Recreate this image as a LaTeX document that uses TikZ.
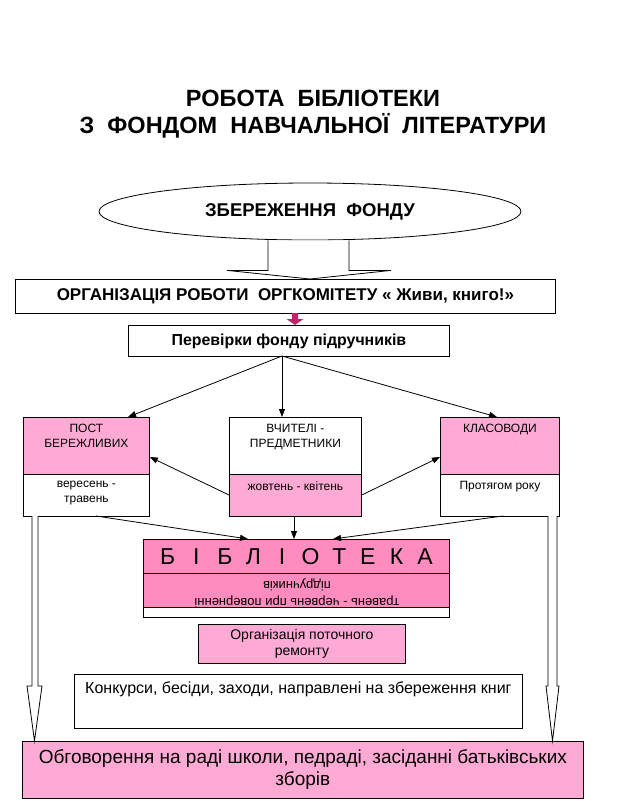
\documentclass[tikz,border=0pt]{standalone}
\usepackage{fontspec}
\setmainfont{Liberation Sans}
\usetikzlibrary{shapes.geometric,arrows.meta,calc}
\definecolor{pinkL}{RGB}{255,170,212}
\definecolor{pinkD}{RGB}{255,140,190}
\definecolor{magarr}{RGB}{192,36,106}
\newcommand\fsz[2]{\fontsize{#1}{#2}\selectfont}
\newcommand\lbx[1]{\makebox[28.6pt]{#1}}
\begin{document}
\begin{tikzpicture}[x=1pt,y=-1pt,
  line width=0.8pt,
  box/.style={draw=black, rectangle, inner sep=0pt, anchor=north west, align=center},
  txt/.style={inner sep=0pt, anchor=north, align=center, font=\fsz{12}{15}},
  arr/.style={-{Triangle[length=8pt,width=6pt]}},
  blockarr/.style={draw=black, fill=white, line width=0.8pt}
]
\useasboundingbox (0,0) rectangle (625,801);

% title
\node[inner sep=0pt, align=center, font=\bfseries\fsz{23.5}{27}] (title) at (313,114)
  {РОБОТА\ \ БІБЛІОТЕКИ\\З\ \ ФОНДОМ\ \ НАВЧАЛЬНОЇ\ \ ЛІТЕРАТУРИ};

% ellipse
\node[draw, ellipse, inner sep=0pt, minimum width=422pt, minimum height=57pt,
  font=\bfseries\fsz{18.5}{21}] (ell) at (310,211.5) {ЗБЕРЕЖЕННЯ\ \ ФОНДУ};

% organisation box
\node[box, minimum width=540pt, minimum height=34pt, font=\bfseries\fsz{17}{20}] (org) at (15,279)
  {ОРГАНІЗАЦІЯ РОБОТИ\ \ ОРГКОМІТЕТУ « Живи, книго!»};

% block arrow ellipse -> org
\path (ell.south) ++(-42,0) coordinate (ba1) (ell.south) ++(39,0) coordinate (ba2);
\draw[blockarr] (ba1) -- ($(ba1)+(0,30)$) -- ($(ba1)+(-41,30)$) -- (ell.south |- org.north)
  -- ($(ba2)+(42,30)$) -- ($(ba2)+(0,30)$) -- (ba2);

% check box
\node[box, minimum width=321pt, minimum height=31pt, font=\bfseries\fsz{15.9}{18}] (check) at (128,325)
  {Перевірки фонду підручників};

% magenta arrow
\coordinate (ma) at (295,313);
\fill[magarr] ($(ma)+(-3,0)$) -- ($(ma)+(3,0)$) -- ($(ma)+(3,6)$) -- ($(ma)+(8.5,6)$)
  -- (ma |- check.north) -- ($(ma)+(-8.5,6)$) -- ($(ma)+(-3,6)$) -- cycle;

% three boxes
\node[box, fill=pinkL, minimum width=126pt, minimum height=57pt] (postT) at (23,417) {};
\node[box, minimum width=126pt, minimum height=42pt] (postB) at (23,474) {};
\node[txt] (postTt) at ($(postT.north)+(0,6.5)$) {ПОСТ\\БЕРЕЖЛИВИХ};
\node[txt] (postBt) at ($(postB.north)+(0,7)$) {вересень -\\травень};

\node[box, minimum width=132pt, minimum height=57pt] (teachT) at (229,417) {};
\node[box, fill=pinkL, minimum width=132pt, minimum height=42pt] (teachB) at (229,474) {};
\node[txt] (teachTt) at ($(teachT.north)+(0,6.5)$) {ВЧИТЕЛІ -\\ПРЕДМЕТНИКИ};
\node[txt] (teachBt) at ($(teachB.north)+(0,7)$) {жовтень - квітень};

\node[box, fill=pinkL, minimum width=119pt, minimum height=57pt] (classT) at (440,417) {};
\node[box, minimum width=119pt, minimum height=42pt] (classB) at (440,474) {};
\node[txt] (classTt) at ($(classT.north)+(0,6.5)$) {КЛАСОВОДИ};
\node[txt] (classBt) at ($(classB.north)+(0,7)$) {Протягом року};

% arrows from check
\coordinate (cs) at (282,356);
\draw[arr] (cs) -- (128,417);
\draw[arr] (cs) -- (cs |- teachT.north);
\draw[arr] (cs) -- (497,417);

% side arrows
\draw[arr] (teachB.west |- 0,495) -- (postT.east |- 0,457);
\draw[arr] (teachB.east |- 0,495) -- (classT.west |- 0,457);

% library box
\node[box, fill=pinkD, minimum width=306pt, minimum height=34pt, font=\fsz{23}{26}] (libT) at (143,539)
  {\lbx{Б}\lbx{І}\lbx{Б}\lbx{Л}\lbx{І}\lbx{О}\lbx{Т}\lbx{Е}\lbx{К}\lbx{А}};
\node[box, fill=pinkD, minimum width=306pt, minimum height=34pt] (libM) at (143,573) {};
\node[box, minimum width=306pt, minimum height=10pt] (libB) at (143,607) {};
\begin{scope}
  \clip (libM.north west) rectangle (libM.south east);
  \node[inner sep=0pt, rotate=180, align=center, font=\fsz{13}{17}] (libMt) at (297,593.5)
    {травень - червень при поверненні\\підручників};
\end{scope}

% lines to library
\draw[arr] (96,516) -- (248,539);
\draw[arr] (294,516) -- (294,539);
\draw[arr] (503,516) -- (333,539);

% repair box
\node[box, fill=pinkL, minimum width=207pt, minimum height=39pt, font=\fsz{14}{16.5}] (rem) at (198,624)
  {Організація поточного\\ремонту};

% contests box
\node[box, minimum width=448pt, minimum height=54pt] (konk) at (74,674) {};
\node[txt, font=\fsz{16}{18}] (konkt) at ($(konk.north)+(0,7)$)
  {Конкурси, бесіди, заходи, направлені на збереження книг};

% bottom box
\node[box, fill=pinkL, minimum width=561pt, minimum height=57pt, font=\fsz{19}{22}] (bot) at (22,741)
  {Обговорення на раді школи, педраді, засіданні батьківських\\зборів};

% left block arrow
\coordinate (la) at (35,516);
\draw[blockarr] ($(la)+(-3,0)$) -- ($(la)+(-3,170)$) -- ($(la)+(-8,170)$) -- (34.5,741)
  -- ($(la)+(7,170)$) -- ($(la)+(3,170)$) -- ($(la)+(3,0)$);
% right block arrow
\coordinate (ra) at (552.5,516);
\draw[blockarr] ($(ra)+(-4.5,0)$) -- ($(ra)+(-4.5,170)$) -- ($(ra)+(-6.5,170)$) -- (552.5,741)
  -- ($(ra)+(6.5,170)$) -- ($(ra)+(4.5,170)$) -- ($(ra)+(4.5,0)$);
\end{tikzpicture}
\end{document}
